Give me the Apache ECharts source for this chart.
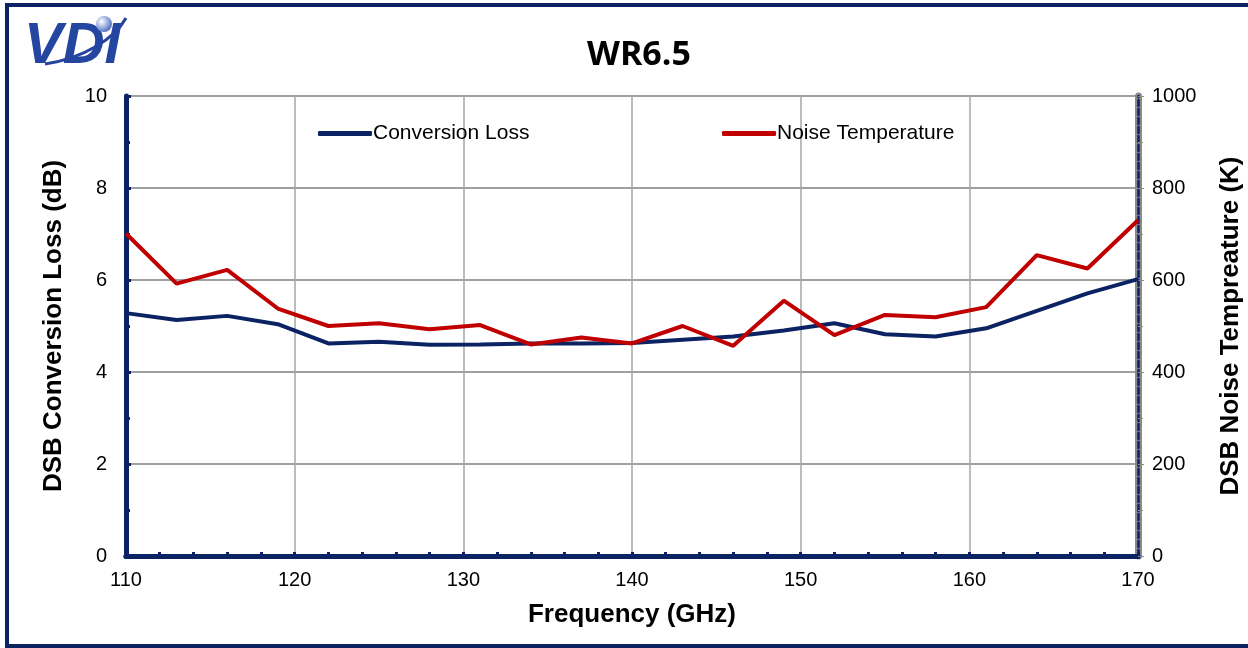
<!DOCTYPE html>
<html>
<head>
<meta charset="utf-8">
<script src="https://cdn.jsdelivr.net/npm/echarts@6/dist/echarts.min.js"></script>
<style>html,body{margin:0;padding:0;background:#fff}#c{width:1248px;height:648px}</style>
</head>
<body>
<div id="c"></div>
<script>
const frequency = [110,113,116,119,122,125,128,131,134,137,140,143,146,149,152,155,158,161,164,167,170];
const conversionLoss = [5.28,5.13,5.22,5.04,4.62,4.66,4.59,4.60,4.62,4.62,4.63,4.70,4.77,4.90,5.06,4.82,4.77,4.95,5.33,5.71,6.02];
const noiseTemperature = [701,592,622,538,500,506,493,502,460,475,462,500,457,555,480,524,519,541,654,625,730];
const xTicks = [110,120,130,140,150,160,170];
const leftTicks = [0,2,4,6,8,10];
const rightTicks = [0,200,400,600,800,1000];

const navy = '#0b2363';
const red = '#c00000';
const font = 'Liberation Sans, Arial, sans-serif';

const legendText = {fontFamily: font, fontSize: 21, color: '#000', padding: [0,0,0,-4]};

const chart = echarts.init(document.getElementById('c'));
chart.setOption({
  animation: false,
  backgroundColor: '#fff',
  title: {
    text: 'WR6.5', left: 634, top: 33, textAlign: 'center',
    textStyle: {fontFamily: 'Open Sans, Liberation Sans, sans-serif', fontWeight: 'bold', fontSize: 34, color: '#000'}
  },
  legend: [{
    data: ['Conversion Loss'],
    top: 118, left: 313, itemWidth: 54, itemHeight: 5, icon: 'roundRect',
    textStyle: legendText
  }, {
    data: ['Noise Temperature'],
    top: 118, left: 717, itemWidth: 54, itemHeight: 5, icon: 'roundRect',
    textStyle: legendText
  }],
  grid: {left: 126, right: 110, top: 96, bottom: 92, containLabel: false, outerBoundsMode: 'none'},
  xAxis: [{
    type: 'value', min: 110, max: 170, interval: 10,
    name: 'Frequency (GHz)', nameLocation: 'middle', nameGap: 46,
    nameTextStyle: {fontFamily: font, fontWeight: 'bold', fontSize: 26, color: '#000'},
    axisLine: {show: true, onZero: false, lineStyle: {color: navy, width: 5}},
    axisTick: {show: true, inside: true, length: 4, lineStyle: {color: navy, width: 3}},
    minorTick: {show: true, splitNumber: 5, length: 4, lineStyle: {color: navy, width: 3}},
    axisLabel: {fontFamily: font, fontSize: 20, color: '#000', margin: 14,
      formatter: v => xTicks.includes(v) ? String(v) : ''},
    splitLine: {show: true, lineStyle: {color: '#a6a6a6', width: 1.5}}
  }, {
    type: 'value', min: 110, max: 170, position: 'top',
    axisLine: {show: true, lineStyle: {color: navy, width: 5}},
    axisTick: {show: false}, axisLabel: {show: false}, splitLine: {show: false}
  }],
  yAxis: [{
    type: 'value', min: 0, max: 10, interval: 2, position: 'left',
    name: 'DSB Conversion Loss (dB)', nameLocation: 'middle', nameGap: 59, nameRotate: 90,
    nameTextStyle: {fontFamily: font, fontWeight: 'bold', fontSize: 26, color: '#000'},
    axisLine: {show: true, lineStyle: {color: navy, width: 5}},
    axisTick: {show: true, inside: true, length: 5, lineStyle: {color: navy, width: 3}},
    minorTick: {show: true, splitNumber: 2, length: 4, lineStyle: {color: navy, width: 3}},
    axisLabel: {fontFamily: font, fontSize: 20, color: '#000', margin: 19,
      formatter: v => leftTicks.includes(v) ? String(v) : ''},
    splitLine: {show: true, lineStyle: {color: '#7f7f7f', width: 1.5}}
  }, {
    type: 'value', min: 0, max: 1000, interval: 200, position: 'right',
    name: 'DSB Noise Tempreature (K)', nameLocation: 'middle', nameGap: 80, nameRotate: 90,
    nameTextStyle: {fontFamily: font, fontWeight: 'bold', fontSize: 26, color: '#000'},
    axisLine: {show: true, lineStyle: {color: '#8a8a8a', width: 7}},
    axisTick: {show: true, length: 6, lineStyle: {color: '#8a8a8a', width: 1}},
    minorTick: {show: true, splitNumber: 2, length: 5, lineStyle: {color: '#8a8a8a', width: 1}},
    axisLabel: {fontFamily: font, fontSize: 20, color: '#000', margin: 14,
      formatter: v => rightTicks.includes(v) ? String(v) : ''},
    splitLine: {show: false}
  }, {
    type: 'value', min: 0, max: 1000, position: 'right',
    axisLine: {show: true, lineStyle: {color: navy, width: 2.5, type: [6, 3]}},
    axisTick: {show: false}, axisLabel: {show: false}, splitLine: {show: false}
  }],
  series: [{
    name: 'Conversion Loss', type: 'line', xAxisIndex: 0, yAxisIndex: 0,
    data: frequency.map((f, i) => [f, conversionLoss[i]]),
    showSymbol: false, symbol: 'none',
    lineStyle: {color: navy, width: 4}, itemStyle: {color: navy}
  }, {
    name: 'Noise Temperature', type: 'line', xAxisIndex: 0, yAxisIndex: 1,
    data: frequency.map((f, i) => [f, noiseTemperature[i]]),
    showSymbol: false, symbol: 'none',
    lineStyle: {color: red, width: 4}, itemStyle: {color: red}
  }],
  graphic: [
    {type: 'rect', shape: {x: 7, y: 5, width: 1260, height: 641}, style: {fill: 'none', stroke: navy, lineWidth: 4}, silent: true},
    {type: 'text', left: 24, top: 18, style: {text: 'VDI', fontFamily: font, fontStyle: 'italic', fontWeight: 'bold', fontSize: 58, fill: '#2446a0'}},
    {type: 'bezierCurve', shape: {x1: 45, y1: 64, x2: 126, y2: 18, cpx1: 85, cpy1: 58, cpx2: 115, cpy2: 38}, style: {stroke: '#2446a0', lineWidth: 3, fill: 'none'}},
    {type: 'circle', shape: {cx: 104, cy: 24, r: 8}, style: {fill: {type: 'radial', x: 0.35, y: 0.35, r: 0.7, colorStops: [{offset: 0, color: '#ffffff'}, {offset: 1, color: '#4a6cc0'}]}}}
  ]
});
</script>
</body>
</html>
